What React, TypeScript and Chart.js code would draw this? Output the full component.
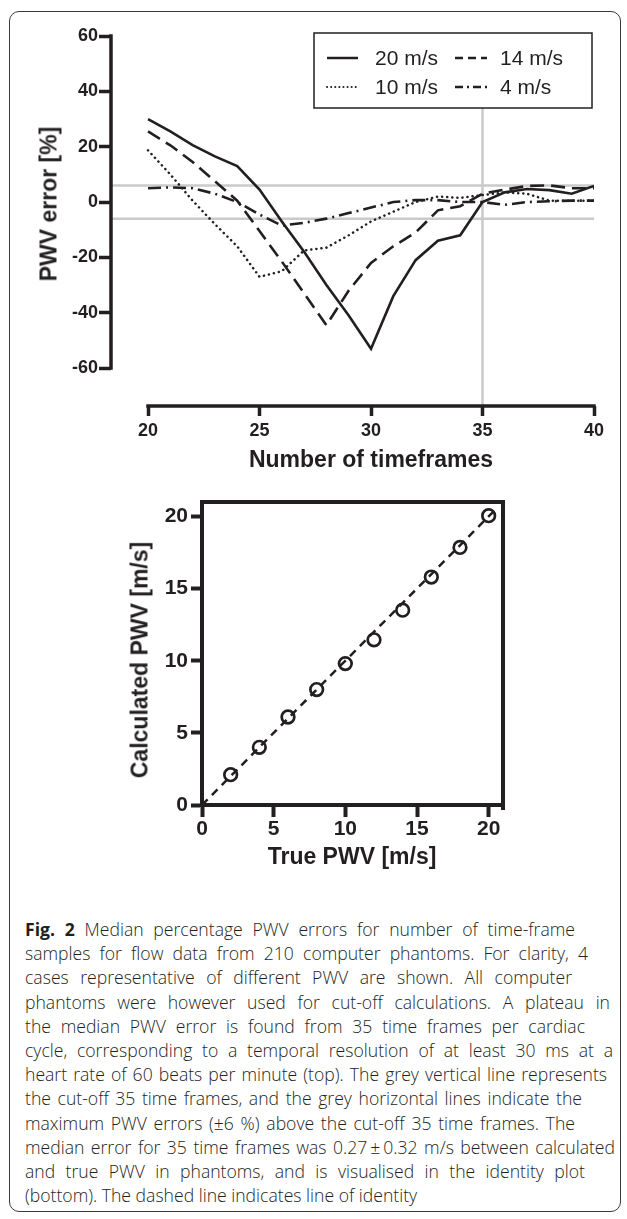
import React, { useEffect, useRef } from "react";
import { Chart, registerables } from "chart.js";

Chart.register(...registerables);

// ---------- data (top chart) ----------
const frames = [20, 21, 22, 23, 24, 25, 26, 27, 28, 29, 30, 31, 32, 33, 34, 35, 36, 37, 38, 39, 40];
const err20 = [30, 25.5, 20.6, 16.5, 13, 4.5, -7, -18, -30, -41, -53, -34, -21, -14, -12, 0, 3.5, 4.7, 4.3, 3, 5.8];
const err14 = [25.5, 20.5, 14.5, 7.5, 0.5, -10.5, -21.5, -33, -44.5, -32, -22, -16, -11, -3, -1.5, 3, 4.5, 5.8, 6, 5, 5];
const err10 = [18.7, 10, 0.5, -8, -16, -27, -25, -17.5, -16.5, -12, -7, -3.5, 0, 2, 1.5, 2.5, 3.5, 3, 0.5, 0.5, 0.5];
const err4 = [5, 5.3, 5, 3, 0, -4.5, -8.5, -7.5, -6, -4, -2, 0, 0.7, 0.7, 0, 0, -1, 0, 0.3, 0.5, 0.5];
const seriesLabels = ["20 m/s", "14 m/s", "10 m/s", "4 m/s"];
const topYTicks = [-60, -40, -20, 0, 20, 40, 60];
const topXTicks = [20, 25, 30, 35, 40];
const errLimit = 6;
const cutoff = 35;
const topXMin = 18.34;
const topYMin = -73.7;

// ---------- data (bottom chart) ----------
const truePWV = [2, 4, 6, 8, 10, 12, 14, 16, 18, 20];
const calcPWV = [2.1, 4.0, 6.1, 8.0, 9.8, 11.45, 13.5, 15.8, 17.85, 20.05];
const identityEnd = 20.6;
const botTicks = [0, 5, 10, 15, 20];
const botMax = 21;

const INK = "#231f20";
const GREY = "#c9cacc";
const FONT = "'Liberation Sans', Arial, Helvetica, sans-serif";

const dashes: number[][] = [[], [14, 7], [0.1, 5], [13, 5, 2, 5]];

export default function App() {
  const topRef = useRef<HTMLCanvasElement>(null);
  const botRef = useRef<HTMLCanvasElement>(null);

  useEffect(() => {
    const seriesData = [err20, err14, err10, err4];

    const topAxesPlugin = {
      id: "topAxes",
      afterDraw(chart: any) {
        const { ctx, chartArea, scales } = chart;
        const x = scales.x;
        const y = scales.y;
        ctx.save();
        ctx.strokeStyle = INK;
        ctx.lineWidth = 3.5;
        ctx.beginPath();
        ctx.moveTo(chartArea.left, y.getPixelForValue(60) - 1.75);
        ctx.lineTo(chartArea.left, y.getPixelForValue(-60) + 1.75);
        ctx.moveTo(x.getPixelForValue(20) - 1.75, chartArea.bottom);
        ctx.lineTo(x.getPixelForValue(40) + 1.75, chartArea.bottom);
        ctx.stroke();

        // legend box
        const L = 314, T = 33, R = 592, B = 108;
        ctx.fillStyle = "#ffffff";
        ctx.fillRect(L, T, R - L, B - T);
        ctx.lineWidth = 1.5;
        ctx.strokeStyle = INK;
        ctx.strokeRect(L, T, R - L, B - T);
        const cols = [[327, 358, 375], [455, 487, 500]];
        const rows = [58, 87];
        ctx.font = `21px ${FONT}`;
        ctx.textBaseline = "middle";
        ctx.textAlign = "left";
        seriesLabels.forEach((lab, i) => {
          const c = cols[i % 2];
          const r = rows[Math.floor(i / 2)];
          ctx.save();
          ctx.lineWidth = i === 2 ? 2 : 2.5;
          ctx.lineCap = i === 2 ? "round" : "butt";
          ctx.setLineDash(i === 2 ? [0.1, 4] : i === 1 ? [8, 5] : i === 3 ? [8, 4, 2, 4] : []);
          ctx.beginPath();
          ctx.moveTo(c[0], r);
          ctx.lineTo(c[1], r);
          ctx.stroke();
          ctx.restore();
          ctx.fillStyle = INK;
          ctx.fillText(lab, c[2], r + 1);
        });
        ctx.restore();
      },
    };

    const top = new Chart(topRef.current!, {
      type: "line",
      data: {
        datasets: [
          ...seriesData.map((arr, i) => ({
            label: seriesLabels[i],
            data: frames.map((f, k) => ({ x: f, y: arr[k] })),
            borderColor: INK,
            borderWidth: i === 2 ? 2.5 : 2.6,
            borderDash: dashes[i],
            borderCapStyle: i === 2 ? "round" : "butt",
            pointRadius: 0,
            tension: 0,
            fill: false,
            order: 1,
          })),
          {
            label: "upper",
            data: [{ x: topXMin, y: errLimit }, { x: 40, y: errLimit }],
            borderColor: GREY,
            borderWidth: 2.5,
            pointRadius: 0,
            order: 5,
          },
          {
            label: "lower",
            data: [{ x: topXMin, y: -errLimit }, { x: 40, y: -errLimit }],
            borderColor: GREY,
            borderWidth: 2.5,
            pointRadius: 0,
            order: 5,
          },
          {
            label: "cutoff",
            data: [{ x: cutoff, y: topYMin }, { x: cutoff, y: 60 }],
            borderColor: GREY,
            borderWidth: 2.5,
            pointRadius: 0,
            order: 5,
          },
        ] as any,
      },
      options: {
        responsive: false,
        animation: false,
        devicePixelRatio: 1,
        layout: { padding: { top: 36, right: 33, left: 0, bottom: 0 } },
        plugins: { legend: { display: false }, tooltip: { enabled: false } },
        scales: {
          x: {
            type: "linear",
            min: topXMin,
            max: 40,
            afterFit: (s: any) => { s.height = 74; },
            afterBuildTicks: (s: any) => { s.ticks = topXTicks.map((v) => ({ value: v })); },
            grid: { display: true, drawOnChartArea: false, drawTicks: true, tickLength: 10, tickWidth: 3.5, tickColor: INK },
            border: { display: false },
            ticks: { color: INK, font: { family: FONT, size: 18, weight: "bold" }, padding: 4, maxRotation: 0 },
          },
          y: {
            type: "linear",
            min: topYMin,
            max: 60,
            afterFit: (s: any) => { s.width = 111; },
            afterBuildTicks: (s: any) => { s.ticks = topYTicks.map((v) => ({ value: v })); },
            grid: { display: true, drawOnChartArea: false, drawTicks: true, tickLength: 12, tickWidth: 3.5, tickColor: INK },
            border: { display: false },
            ticks: { color: INK, font: { family: FONT, size: 18, weight: "bold" }, padding: 1 },
          },
        },
      } as any,
      plugins: [topAxesPlugin],
    });

    const framePlugin = {
      id: "frame",
      afterDraw(chart: any) {
        const { ctx, chartArea } = chart;
        ctx.save();
        ctx.strokeStyle = INK;
        ctx.lineWidth = 4;
        ctx.beginPath();
        ctx.moveTo(chartArea.left - 2, chartArea.top);
        ctx.lineTo(chartArea.right + 2, chartArea.top);
        ctx.moveTo(chartArea.right, chartArea.top);
        ctx.lineTo(chartArea.right, chartArea.bottom + 5);
        ctx.stroke();
        ctx.restore();
      },
    };

    const bot = new Chart(botRef.current!, {
      type: "line",
      data: {
        datasets: [
          {
            label: "identity",
            data: [{ x: 0, y: 0 }, { x: identityEnd, y: identityEnd }],
            borderColor: INK,
            borderWidth: 2.5,
            borderDash: [8, 6],
            pointRadius: 0,
            order: 2,
          },
          {
            label: "median",
            data: truePWV.map((t, k) => ({ x: t, y: calcPWV[k] })),
            showLine: false,
            borderColor: INK,
            backgroundColor: "rgba(0,0,0,0)",
            pointRadius: 6.3,
            pointBorderWidth: 2.7,
            pointBorderColor: INK,
            pointBackgroundColor: "rgba(0,0,0,0)",
            order: 1,
          },
        ] as any,
      },
      options: {
        responsive: false,
        animation: false,
        devicePixelRatio: 1,
        layout: { padding: { top: 22, right: 124, left: 0, bottom: 0 } },
        plugins: { legend: { display: false }, tooltip: { enabled: false } },
        scales: {
          x: {
            type: "linear",
            min: 0,
            max: botMax,
            afterFit: (s: any) => { s.height = 65; },
            afterBuildTicks: (s: any) => { s.ticks = botTicks.map((v) => ({ value: v })); },
            grid: { display: true, drawOnChartArea: false, drawTicks: true, tickLength: 12, tickWidth: 4, tickColor: INK },
            border: { display: true, width: 4, color: INK },
            ticks: { color: INK, font: { family: FONT, size: 21, weight: "bold" }, padding: 0, maxRotation: 0 },
          },
          y: {
            type: "linear",
            min: 0,
            max: botMax,
            afterFit: (s: any) => { s.width = 202; },
            afterBuildTicks: (s: any) => { s.ticks = botTicks.map((v) => ({ value: v })); },
            grid: { display: true, drawOnChartArea: false, drawTicks: true, tickLength: 11, tickWidth: 4, tickColor: INK },
            border: { display: true, width: 4, color: INK },
            ticks: { color: INK, font: { family: FONT, size: 21, weight: "bold" }, padding: 3 },
          },
        },
      } as any,
      plugins: [framePlugin],
    });

    return () => {
      top.destroy();
      bot.destroy();
    };
  }, []);

  const title: React.CSSProperties = {
    position: "absolute",
    fontFamily: FONT,
    fontWeight: "bold",
    fontSize: 23,
    lineHeight: 1,
    color: INK,
    whiteSpace: "nowrap",
    transform: "translate(-50%, -50%)",
  };
  const rot: React.CSSProperties = { ...title, transform: "translate(-50%, -50%) rotate(-90deg)" };

  const captionLines: React.ReactNode[] = [
    <><b style={{ fontWeight: 700 }}>Fig. 2</b> Median percentage PWV errors for number of time-frame</>,
    "samples for flow data from 210 computer phantoms. For clarity, 4",
    "cases representative of different PWV are shown. All computer",
    "phantoms were however used for cut-off calculations. A plateau in",
    "the median PWV error is found from 35 time frames per cardiac",
    "cycle, corresponding to a temporal resolution of at least 30 ms at a",
    "heart rate of 60 beats per minute (top). The grey vertical line represents",
    "the cut-off 35 time frames, and the grey horizontal lines indicate the",
    "maximum PWV errors (\u00b16 %) above the cut-off 35 time frames. The",
    "median error for 35 time frames was 0.27\u2009\u00b1\u20090.32 m/s between calculated",
    "and true PWV in phantoms, and is visualised in the identity plot",
    "(bottom). The dashed line indicates line of identity",
  ];
  const captionWidths = [550, 563, 547, 585, 560, 588, 582, 557, 550, 590, 560, 0];

  return (
    <div style={{ position: "absolute", left: 0, top: 0, width: 627, height: 1219, background: "#ffffff", overflow: "hidden" }}>
      <div
        style={{
          position: "absolute",
          left: 9,
          top: 11,
          width: 612,
          height: 1201,
          border: "1.5px solid #3a3a3a",
          borderRadius: 10,
          boxSizing: "border-box",
        }}
      />
      <canvas ref={topRef} width={627} height={480} style={{ position: "absolute", left: 0, top: 0, width: 627, height: 480 }} />
      <canvas ref={botRef} width={627} height={390} style={{ position: "absolute", left: 0, top: 480, width: 627, height: 390 }} />
      <div style={{ ...rot, left: 49, top: 204 }}>PWV error [%]</div>
      <div style={{ ...title, left: 371, top: 459 }}>Number of timeframes</div>
      <div style={{ ...rot, left: 140, top: 660 }}>Calculated PWV [m/s]</div>
      <div style={{ ...title, left: 352, top: 856 }}>True PWV [m/s]</div>
      <div
        style={{
          position: "absolute",
          left: 25,
          top: 917,
          fontFamily: "'Open Sans', 'Noto Sans', sans-serif",
          fontWeight: 300,
          fontSize: 17.6,
          lineHeight: "24.2px",
          color: INK,
        }}
      >
        {captionLines.map((l, i) => (
          <div
            key={i}
            style={
              captionWidths[i] > 0
                ? { width: captionWidths[i], textAlign: "justify", textAlignLast: "justify", height: "24.2px", overflow: "visible" }
                : { whiteSpace: "nowrap", height: "24.2px" }
            }
          >
            {l}
          </div>
        ))}
      </div>
    </div>
  );
}
